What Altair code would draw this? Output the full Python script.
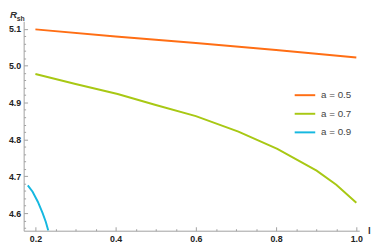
import altair as alt
import pandas as pd

series_labels = ["a = 0.5", "a = 0.7", "a = 0.9"]
series_colors = ["#FF6E14", "#A8C814", "#16B8E0"]

l_a05 = [0.2, 0.4, 0.6, 0.8, 1.0]
r_a05 = [5.098, 5.079, 5.061, 5.042, 5.022]

l_a07 = [0.2, 0.3, 0.405, 0.5, 0.6, 0.706, 0.803, 0.901, 0.95, 1.0]
r_a07 = [4.977, 4.950, 4.923, 4.893, 4.863, 4.821, 4.774, 4.715, 4.677, 4.628]

l_a09 = [0.181, 0.193, 0.206, 0.218, 0.226, 0.232]
r_a09 = [4.675, 4.658, 4.631, 4.600, 4.576, 4.553]

x_major = [0.2, 0.4, 0.6, 0.8, 1.0]
x_minor = [0.25, 0.3, 0.35, 0.45, 0.5, 0.55, 0.65, 0.7, 0.75, 0.85, 0.9, 0.95]
y_major = [4.6, 4.7, 4.8, 4.9, 5.0, 5.1]
y_minor = [4.56, 4.58, 4.62, 4.64, 4.66, 4.68, 4.72, 4.74, 4.76, 4.78,
           4.82, 4.84, 4.86, 4.88, 4.92, 4.94, 4.96, 4.98, 5.02, 5.04,
           5.06, 5.08]

x_domain = [0.1707, 1.0073]
y_domain = [4.5523, 5.1199]

W = 343
H = 214
AXIS_GRAY = "#a0a0a0"
FONT = "Liberation Sans"

rows = []
for name, xs, ys in [(series_labels[0], l_a05, r_a05),
                     (series_labels[1], l_a07, r_a07),
                     (series_labels[2], l_a09, r_a09)]:
    for i, (xv, yv) in enumerate(zip(xs, ys)):
        rows.append({"series": name, "l": xv, "r": yv, "i": i})
df = pd.DataFrame(rows)

x_scale = alt.Scale(domain=x_domain, nice=False, zero=False)
y_scale = alt.Scale(domain=y_domain, nice=False, zero=False)

base = alt.Chart(df)

lines = base.mark_line(strokeWidth=2, clip=True).encode(
    x=alt.X("l:Q", scale=x_scale, axis=alt.Axis(
        orient="bottom", values=x_major, format=".1f", ticks=False, tickSize=0,
        labelPadding=4, domainColor=AXIS_GRAY, domainWidth=1, grid=False, title=None,
        labelFont=FONT, labelFontSize=9, labelFontWeight="bold", labelColor="#222",
        labelFlush=False)),
    y=alt.Y("r:Q", scale=y_scale, axis=alt.Axis(
        orient="left", values=y_major, format=".1f", ticks=False, tickSize=0,
        labelPadding=3, domainColor=AXIS_GRAY, domainWidth=1, grid=False, title=None,
        labelFont=FONT, labelFontSize=9, labelFontWeight="bold", labelColor="#222",
        labelFlush=False)),
    color=alt.Color("series:N", scale=alt.Scale(domain=series_labels, range=series_colors),
                    legend=alt.Legend(title=None, orient="none", legendX=276, legendY=64,
                                      symbolType="stroke", symbolSize=441, symbolStrokeWidth=2,
                                      labelFont=FONT, labelFontSize=10, labelColor="#444",
                                      labelOffset=5, rowPadding=2, padding=0)),
    order=alt.Order("i:Q"),
)

def tick_layer(xvals, yvals, size):
    return base.mark_point(opacity=0).encode(
        x=alt.X("l:Q", scale=x_scale, axis=alt.Axis(
            orient="top", offset=-H, values=xvals, labels=False, domain=False,
            ticks=True, tickSize=size, tickColor=AXIS_GRAY, tickWidth=1, grid=False, title=None)),
        y=alt.Y("r:Q", scale=y_scale, axis=alt.Axis(
            orient="right", offset=-W, values=yvals, labels=False, domain=False,
            ticks=True, tickSize=size, tickColor=AXIS_GRAY, tickWidth=1, grid=False, title=None)),
    )

major_ticks = tick_layer(x_major, y_major, 4)
minor_ticks = tick_layer(x_minor, y_minor, 2)

title_df = pd.DataFrame({"t": ["R"]})
r_text = alt.Chart(title_df).mark_text(
    font=FONT, fontSize=10, fontStyle="italic", fontWeight="bold", color="#333",
    align="left", baseline="alphabetic").encode(
    x=alt.value(-14), y=alt.value(-3), text="t:N")
sub_df = pd.DataFrame({"t": ["sh"]})
sub_text = alt.Chart(sub_df).mark_text(
    font=FONT, fontSize=7, fontWeight="bold", color="#333",
    align="left", baseline="alphabetic").encode(
    x=alt.value(-7), y=alt.value(0), text="t:N")
xt_df = pd.DataFrame({"t": ["l"]})
x_title = alt.Chart(xt_df).mark_text(
    font=FONT, fontSize=10, fontWeight="bold", color="#333",
    align="left", baseline="alphabetic").encode(
    x=alt.value(352), y=alt.value(217), text="t:N")

chart = alt.layer(lines, major_ticks, minor_ticks, r_text, sub_text, x_title).resolve_axis(
    x="independent", y="independent"
).properties(
    width=W, height=H,
    autosize=alt.AutoSizeParams(type="none"),
    padding={"left": 16, "top": 11, "right": 12, "bottom": 12},
).configure(background="white", view=alt.ViewConfig(stroke=None))

chart.save("out.html", embed_options={"renderer": "svg", "actions": False})
